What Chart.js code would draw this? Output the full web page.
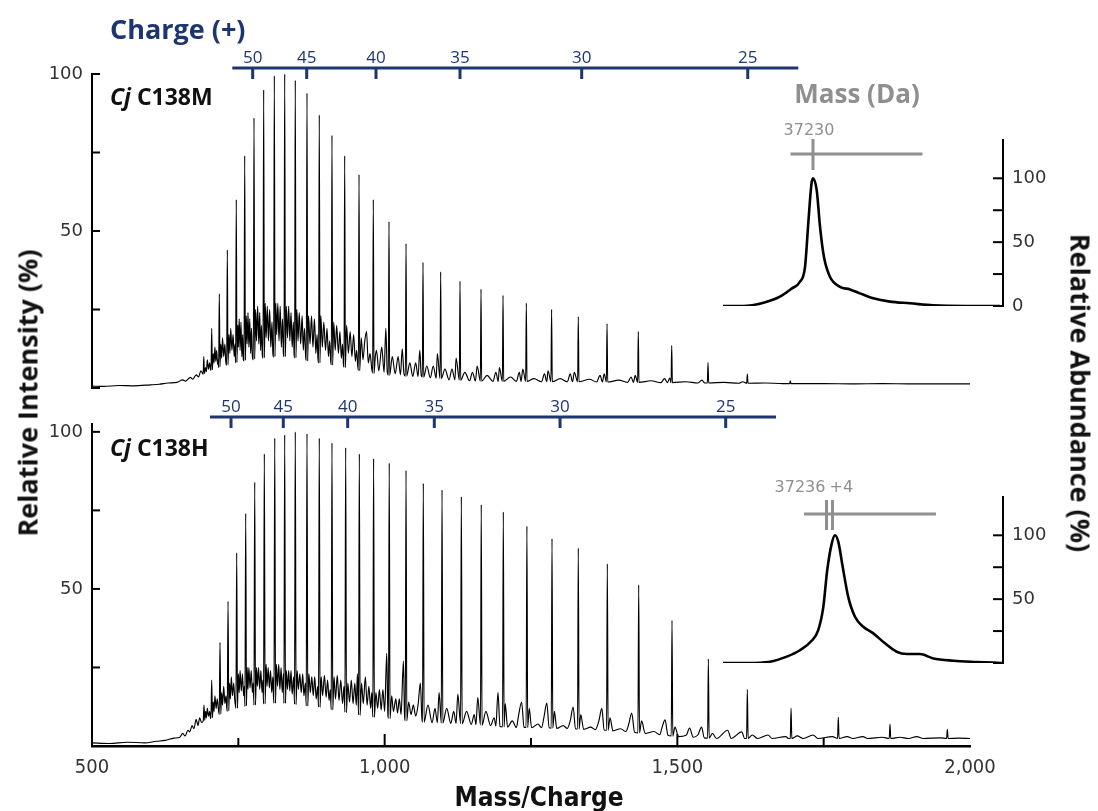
<!DOCTYPE html>
<html>
<head>
<meta charset="utf-8">
<title>Cj C138M / C138H native MS</title>
<script src="https://cdn.jsdelivr.net/npm/chart.js@4.4.1/dist/chart.umd.min.js"></script>
<style>
  html, body { margin: 0; padding: 0; background: #fff; }
  #figure { position: relative; width: 1098px; height: 811px; overflow: hidden; }
  #figure canvas { position: absolute; left: 0; top: 0; }
  .lbl { position: absolute; white-space: nowrap; line-height: 1; font-family: "Open Sans", sans-serif; font-weight: 700; }
  #chargeTitle { left: 110px; top: 15px; font-size: 27px; color: #1d3570; }
  #massTitle { left: 857px; top: 80px; font-size: 26px; color: #8f8f8f; transform: translateX(-50%); }
  .sample { left: 110px; font-size: 23px; color: #111; }
  .sample i { font-style: italic; }
  #sampleTop { top: 85px; }
  #sampleBottom { top: 436px; }
  #yTitle { left: 27px; top: 393px; font-size: 27px; color: #111; transform: translate(-50%, -50%) rotate(-90deg); }
  #y2Title { left: 1081px; top: 393px; font-size: 27px; color: #111; transform: translate(-50%, -50%) rotate(90deg); }
  #xTitle { left: 539px; top: 784px; font-size: 26px; color: #111; transform: translateX(-50%);
            font-family: "DejaVu Sans Condensed", "DejaVu Sans", sans-serif; font-stretch: condensed; }
</style>
</head>
<body>
<div id="figure">
  <canvas id="topSpectrum" width="1098" height="811"></canvas>
  <canvas id="bottomSpectrum" width="1098" height="811"></canvas>
  <canvas id="topInset" width="1098" height="811"></canvas>
  <canvas id="bottomInset" width="1098" height="811"></canvas>
  <div class="lbl" id="chargeTitle">Charge (+)</div>
  <div class="lbl" id="massTitle">Mass (Da)</div>
  <div class="lbl sample" id="sampleTop"><i>Cj</i> C138M</div>
  <div class="lbl sample" id="sampleBottom"><i>Cj</i> C138H</div>
  <div class="lbl" id="yTitle">Relative Intensity (%)</div>
  <div class="lbl" id="y2Title">Relative Abundance (%)</div>
  <div class="lbl" id="xTitle">Mass/Charge</div>
</div>
<script>
// ---- Cj C138M: charge-state series (m/z, % intensity) ----
const topPeakMz = [691, 704.5, 717.5, 731.2, 746.5, 760.9, 776.8, 793.3, 811.5, 829.2, 847.3, 867.3,
  888.3, 910, 931.7, 956.2, 980.6, 1007.4, 1036.5, 1065.5, 1095.7, 1128.7, 1164.6, 1202.2, 1242,
  1285.2, 1330.8, 1379.9, 1433.3, 1490.4, 1552.4, 1619.6, 1693];
const topPeakIntensity = [10, 19, 30, 44, 60, 74, 86, 95, 99.5, 100, 98, 94,
  87, 80.5, 74, 68, 60, 53, 46, 40, 37, 34, 31.5, 29.5, 27,
  25, 22.7, 20.5, 18, 13.5, 8.2, 4.4, 2.3];
// baseline hump, adducts and valleys between the charge states [m/z, %]
const topTrace = [
  [500,0.6],[520,0.5],[545,0.8],[570,0.7],[600,1.0],[615,1.2],[630,1.6],[645,1.8],[655,2.6],[660,2.2],[668,3.4],[672,2.8],[678,4.2],[682,3.5],[686,5.5],[689.9,4.4],
  [692.1,4.6],[694,6.5],[695.5,5.2],[697,9],[699,6],[701,8],[702.5,6],[703.4,5.6],
  [705.6,5.8],[707,11],[708.5,8],[710,13],[711.5,8.5],[713,12],[714.5,7.5],[715.5,9],[716.4,6.5],
  [718.6,6.8],[720,14],[721.5,9.5],[723,16],[725,10],[727,14],[728.5,8.5],[730.1,7.2],
  [732.3,7.4],[734,17],[735.5,11],[737,19],[739,12],[741,17],[743,10],[744.5,14],[745.4,8],
  [747.6,8.2],[749,20],[750,13],[751.5,22],[753,12],[754.5,21],[756,10],[757.5,17],[758.5,9],[759.8,8.6],
  [762,8.8],[763.5,23],[765,14],[766.5,24],[768,13],[769.5,22],[771,11],[772.5,19],[774,10],[775.7,9],
  [777.9,9.2],[779.5,25],[781,15],[783,26],[785,14],[786.5,24],[788,12],[789.5,20],[791,10.5],[792.2,9.5],
  [794.4,9.6],[796,27],[797.5,16],[799.5,26],[801.5,15],[803.5,25],[805.5,13],[807.5,21],[809,11],[810.4,9.8],
  [812.6,10],[814,27],[815.5,17],[817.5,27],[819.5,15],[821.5,26],[823.5,13],[825.5,22],[827,11],[828.1,10],
  [830.3,10],[832,26],[834,16],[836,26],[838,15],[840,24],[842,13],[844,21],[845.3,10.5],[846.2,9.6],
  [848.4,9.6],[850,25],[852,15],[854,24],[856.5,14],[859,23],[861,12],[863,19],[865,10],[866.2,8.8],
  [868.4,8.6],[870,23],[872.5,14],[875,23],[877.5,13],[880,22],[882.5,11],[884.5,17],[886,9.5],[887.2,8],
  [889.4,8],[891,23],[893.5,13],[896,21],[899,12],[901.5,19],[904,10],[906,15],[907.8,8.5],[908.9,7.4],
  [911.1,7.3],[913,21],[915.5,12],[918,20],[921,11],[923.5,18],[926,9.5],[928,14],[929.6,7.5],[930.6,6.6],
  [932.8,6.5],[935,20],[938,11],[941,18],[944,10],[947,17],[950,8.5],[952,12],[954,7],[955.1,5.6],
  [957.3,5.5],[960,16],[963,9],[966,15],[969,18],[972,8],[975,11],[978,6],[979.5,4.8],
  [981.7,4.6],[984,10],[986,12],[990,5.5],[995,13],[999,5],[1002,19],[1004.5,5],[1006.3,4.1],
  [1008.5,4],[1013,10],[1018,4.5],[1023,10],[1027,4.2],[1030,12.5],[1033,4.5],[1035.4,3.8],
  [1037.6,3.8],[1043,8],[1048,3.7],[1053,8],[1057,3.6],[1060,12],[1062.5,4],[1064.4,3.5],
  [1066.6,3.4],[1072,7],[1078,3.3],[1083,7],[1088,3.1],[1090,11],[1094.6,3],
  [1096.8,3],[1103,6],[1110,2.6],[1115,6],[1120,2.6],[1122,9.5],[1127.6,2.5],
  [1129.8,2.5],[1137,5],[1145,2.3],[1150,5],[1155,2.2],[1158,7],[1163.5,2.2],
  [1165.7,2.2],[1175,4],[1185,2.1],[1190,5],[1194,2.1],[1196,6.5],[1201.1,2.1],
  [1203.3,2.1],[1215,3.5],[1225,2.1],[1230,5],[1233,2.1],[1236,6],[1240.9,2.1],
  [1243.1,2.1],[1255,3],[1268,2.0],[1273,4.5],[1277,2.0],[1279,5.5],[1284.1,2.0],
  [1286.3,2],[1300,3],[1312,2],[1317,4.5],[1321,2],[1324,5],[1329.7,2],
  [1331.9,2],[1350,2.8],[1362,1.9],[1368,4],[1372,1.9],[1375,4.5],[1378.8,1.9],
  [1381,1.9],[1400,2.5],[1415,1.8],[1421,3.5],[1425,1.8],[1428,4],[1432.2,1.8],
  [1434.4,1.8],[1455,2.3],[1472,1.7],[1478,3],[1483,1.7],[1487,3.2],[1489.3,1.7],
  [1491.5,1.7],[1515,2],[1535,1.6],[1542,2.5],[1547,1.6],[1551.3,1.6],
  [1553.5,1.6],[1580,1.8],[1605,1.5],[1612,2],[1618.5,1.5],
  [1620.7,1.5],[1650,1.6],[1680,1.4],[1691.9,1.4],
  [1694.1,1.4],[1750,1.4],[1800,1.3],[1850,1.4],[1900,1.3],[1950,1.3],[2000,1.3]
];
const topChargeStates = [50, 45, 40, 35, 30, 25];
const topChargeMz = [774.5, 866.8, 985.2, 1128.7, 1336.6, 1620.3];
const topChargeSpan = [739.7, 1706.7];

// ---- Cj C138H ----
const bottomPeakMz = [691.3, 704.5, 718.7, 732.4, 747.2, 762.6, 778, 794.4, 812.2, 829.2, 847.3, 867.3,
  888.3, 910, 933.4, 956.7, 981.1, 1007.8, 1036.5, 1066, 1098, 1131, 1165, 1202.7, 1243,
  1285.9, 1330.8, 1380.4, 1434, 1490.9, 1553, 1619.6, 1694.3, 1775, 1863.3, 1961.3];
const bottomPeakIntensity = [13, 21, 33, 46, 61.5, 74, 84, 93, 98, 99, 100, 99.4,
  98, 96.5, 95, 93, 91.5, 90, 87.7, 83.6, 81.5, 79.4, 76.8, 74.5, 70,
  66, 63, 58, 51.3, 40, 27.7, 18, 12, 9.1, 7, 5.3];
const bottomTrace = [
  [500,1.0],[530,0.8],[560,1.2],[590,1.0],[610,1.5],[625,1.8],[640,2.5],[650,2.8],[655,4.0],[659,3.2],[664,5],[667,4.5],[671,6.5],[674,5.5],[678,8.5],[681,6.5],[684,9],[687,7.5],[690,8],
  [692.6,8.2],[694,11],[695.5,9],[697,12],[699,9.5],[701,11],[702.3,9],[703.2,8.8],
  [705.8,9],[707,14],[708.5,11],[710,16],[712,12],[714,15],[716,11.5],[717.4,10],
  [720,10.2],[721.5,17],[723,13],[725,19],[727,13.5],[729,16],[730.3,12],[731.1,11],
  [733.7,11.2],[735,20],[736.5,15],[738,22],[740,16],[742,20],[744,14.5],[745.9,12],
  [748.5,12],[750,23],[751.5,17],[753,24],[755,17.5],[757,23],[759,16],[760.3,19],[761.3,12.6],
  [763.9,12.8],[765,25],[766.5,18],[768,25],[770,18.5],[772,24],[774,17],[775.5,20],[776.7,13],
  [779.3,13],[781,25],[782.5,19],[784.5,25],[786.5,18],[788.5,24],[790.5,17],[792,21],[793.1,13.4],
  [795.7,13.4],[797.5,26],[799,19],[801,25],[803,18.5],[805,24],[807,17],[809,22],[810,16],[810.9,13.6],
  [813.5,13.6],[815,26],[817,19],[819,26],[821,18],[823,25],[825,17],[827,23],[827.9,13.6],
  [830.5,13.6],[832,24],[834,18],[836,24],[838,17.5],[840,24],[842,16.5],[844.5,22],[846,13.3],
  [848.6,13.2],[850.5,24],[852.5,18],[855,23],[857.5,17],[860,23],[862,16],[864.5,20],[866,12.8],
  [868.6,12.7],[870.5,23],[873,17],[875.5,22],[878,16],[880.5,22],[883,15],[885.5,19],[887,12.4],
  [889.6,12.3],[891.5,22],[894,16],[897,22.5],[900,15.5],[902.5,21],[905,14.5],[907,18],[908.7,11.6],
  [911.3,11.5],[913.5,22],[916,15],[919,22.5],[922,14.5],[925,21],[928,13.5],[930.5,19],[932.1,10.8],
  [934.7,10.6],[937,20],[940,14],[943,21],[946,13.5],[949,20],[951.5,13],[953.5,23],[955.4,9.9],
  [958,9.8],[960.5,20],[963.5,13.5],[967,22],[970,13],[973,19],[976,12],[978,17],[979.8,9.2],
  [982.4,9.1],[985,17],[988,12],[991,18],[994,11.5],[997,18],[1000,11],[1003.5,29.5],[1005.5,10],[1006.5,8.8],
  [1009.1,8.7],[1012,16],[1015,11],[1019,15],[1022,10.5],[1025,15],[1028,10],[1032,27],[1034,9.5],[1035.2,8.1],
  [1037.8,8],[1041,14],[1045,10],[1049,13],[1053,9.5],[1057,13],[1061,20],[1063.5,9],[1064.7,7.6],
  [1067.3,7.6],[1074,13],[1081,7.4],[1086,12],[1090,7.4],[1093,17],[1096.7,7.3],
  [1099.3,7.3],[1106,12],[1113,7.2],[1118,11],[1122,7.2],[1125,16.5],[1129.7,7.1],
  [1132.3,7],[1140,11],[1148,6.9],[1153,10],[1156,6.8],[1159,15.5],[1163.7,6.7],
  [1166.3,6.6],[1173,11],[1181,6.5],[1187,9],[1190,6.4],[1193.6,17],[1197,6.2],[1201.4,6.1],
  [1204,6.1],[1206,13.5],[1210,6],[1218,8],[1225,5.9],[1229,10],[1234,14],[1238,6],[1241.7,5.9],
  [1244.3,5.9],[1247,12],[1251,5.8],[1262,7],[1268,5.8],[1272,9],[1277,13.7],[1281,5.8],[1284.6,5.7],
  [1287.2,5.7],[1290,11],[1294,5.6],[1305,6.5],[1312,5.6],[1317,8],[1322,12.4],[1326,5.5],[1329.5,5.4],
  [1332.1,5.4],[1335,10],[1340,5.3],[1352,6],[1360,5.2],[1366,8],[1371,12],[1375,5.1],[1379.1,5],
  [1381.7,5],[1385,9],[1390,4.8],[1403,5.5],[1412,4.6],[1417,7],[1422,10.5],[1427,4.4],[1432.7,4.2],
  [1435.3,4.2],[1439,8],[1445,4],[1460,4.6],[1470,3.6],[1474,6],[1479,8.3],[1484,3.4],[1489.6,3.2],
  [1492.2,3.1],[1496,6],[1502,3],[1515,3.4],[1521,5.7],[1527,2.8],[1535,3.5],[1541.5,6],[1546,2.6],[1551.7,2.5],
  [1554.3,2.5],[1560,4],[1567,2.4],[1586,5],[1592,2.4],[1610,4.5],[1615,2.4],[1618.3,2.4],
  [1620.9,2.4],[1628,3.5],[1637,2.4],[1655,3.5],[1662,2.4],[1685,3],[1690,2.4],[1693,2.4],
  [1695.6,2.4],[1705,3.2],[1715,2.4],[1732,3.5],[1740,2.4],[1765,3],[1773.7,2.4],
  [1776.3,2.4],[1790,3],[1800,2.4],[1817,3],[1825,2.4],[1850,2.8],[1862,2.4],
  [1864.6,2.4],[1880,2.8],[1895,2.4],[1909,3],[1920,2.4],[1950,2.6],[1960,2.4],
  [1962.6,2.4],[1980,2.5],[2000,2.4]
];
const bottomChargeStates = [50, 45, 40, 35, 30, 25];
const bottomChargeMz = [737.5, 826.8, 936.8, 1084.8, 1299.6, 1582.6];
const bottomChargeSpan = [701.6, 1668.6];

// ---- deconvoluted masses (Da, % abundance) ----
const topMass = [37170, 37183.5, 37197, 37208, 37216, 37221.3, 37224.7, 37227, 37229, 37230, 37232.5,
  37234.7, 37237.3, 37241.3, 37248, 37254.7, 37261.3, 37270.2, 37281.3, 37294.7, 37310.2, 37332.5, 37354.7];
const topAbundance = [0, 0, 2.6, 7.3, 13.8, 19, 30.7, 67, 95.8, 100, 90.6,
  62, 38.5, 22.9, 15, 13, 9.9, 6, 3.4, 2.1, 0.5, 0, 0];
const topMarkMass = [37230];
const topMarkSpan = [37215, 37303];

const bottomMass = [37167, 37183, 37198.3, 37209.5, 37218.3, 37226.1, 37230.5, 37233.9, 37236.5, 37239.5,
  37241.7, 37243.9, 37246.8, 37250.5, 37255, 37260.5, 37267.2, 37275, 37282.8, 37289.5, 37298.3,
  37307.2, 37320.5, 37336.1, 37352.8];
const bottomAbundance = [0, 0, 1, 5, 10, 17.4, 25.8, 44, 72.7, 93.5,
  100, 94.8, 75.3, 51.8, 36.2, 28.4, 23.2, 15.4, 8.8, 7, 7,
  3.6, 1.8, 0.8, 0];
const bottomMarkMass = [37236, 37240];
const bottomMarkSpan = [37221, 37309];

const mzTicks = [500, 750, 1000, 1250, 1500, 1750, 2000];
const intensityTicks = [0, 25, 50, 75, 100];

// ---------------------------------------------------------------
const NAVY = '#1d3570';
const GREY = '#8f8f8f';

function spectrumPoints(trace, peakMz, peakIntensity) {
  const pts = trace.map(([x, y]) => ({ x, y }));
  peakMz.forEach((x, i) => pts.push({ x, y: peakIntensity[i] }));
  return pts.sort((a, b) => a.x - b.x);
}

// tick marks pointing into the plot area
function inwardTicks(axes) {
  return {
    id: 'inwardTicks',
    afterDraw(chart) {
      const { ctx, chartArea: a } = chart;
      ctx.save();
      ctx.strokeStyle = '#000';
      ctx.lineWidth = 2;
      axes.forEach(ax => {
        const scale = chart.scales[ax.id];
        scale.ticks.forEach(t => {
          if (ax.skipEnds && (t.value === scale.min || t.value === scale.max)) return;
          const p = scale.getPixelForValue(t.value);
          const len = t.label === '' ? ax.minor : ax.major;
          ctx.beginPath();
          if (ax.id === 'x') { ctx.moveTo(p, a.bottom); ctx.lineTo(p, a.bottom - len); }
          else if (scale.position === 'left') { ctx.moveTo(a.left, p); ctx.lineTo(a.left + len, p); }
          else { ctx.moveTo(a.right, p); ctx.lineTo(a.right - len, p); }
          ctx.stroke();
        });
      });
      ctx.restore();
    }
  };
}

// charge-state ruler above a spectrum
function chargeRuler(states, positions, span, offset) {
  return {
    id: 'chargeRuler',
    afterDraw(chart) {
      const { ctx } = chart;
      const x = chart.scales.x;
      const y = chart.chartArea.top + offset;
      ctx.save();
      ctx.strokeStyle = NAVY;
      ctx.fillStyle = NAVY;
      ctx.lineWidth = 3;
      ctx.beginPath();
      ctx.moveTo(x.getPixelForValue(span[0]), y);
      ctx.lineTo(x.getPixelForValue(span[1]), y);
      ctx.stroke();
      ctx.font = '17px "Open Sans"';
      ctx.textAlign = 'center';
      ctx.textBaseline = 'alphabetic';
      positions.forEach((mz, i) => {
        const px = x.getPixelForValue(mz);
        ctx.beginPath();
        ctx.moveTo(px, y);
        ctx.lineTo(px, y + 11);
        ctx.stroke();
        ctx.fillText(String(states[i]), px, y - 5);
      });
      ctx.restore();
    }
  };
}

// grey mass marker above a deconvoluted peak
function massMarker(marks, span, labels, geom) {
  return {
    id: 'massMarker',
    afterDraw(chart) {
      const { ctx } = chart;
      const x = chart.scales.x;
      const top = chart.chartArea.top;
      ctx.save();
      ctx.strokeStyle = GREY;
      ctx.fillStyle = GREY;
      ctx.lineWidth = 3;
      ctx.beginPath();
      ctx.moveTo(x.getPixelForValue(span[0]), top + geom.bar);
      ctx.lineTo(x.getPixelForValue(span[1]), top + geom.bar);
      ctx.stroke();
      marks.forEach(m => {
        const px = x.getPixelForValue(m);
        ctx.beginPath();
        ctx.moveTo(px, top + geom.tick[0]);
        ctx.lineTo(px, top + geom.tick[1]);
        ctx.stroke();
      });
      ctx.font = '16px "DejaVu Sans"';
      ctx.textBaseline = 'alphabetic';
      labels.forEach(l => {
        ctx.textAlign = l.align;
        ctx.fillText(l.text, x.getPixelForValue(l.value) + l.dx, top - 5);
      });
      ctx.restore();
    }
  };
}

function spectrumChart(id, points, yMax, padTop, showX, extra) {
  return new Chart(document.getElementById(id), {
    type: 'line',
    data: {
      datasets: [{
        data: points,
        borderColor: '#000',
        borderWidth: 1.15,
        pointRadius: 0,
        cubicInterpolationMode: 'monotone'
      }]
    },
    options: {
      responsive: false,
      animation: false,
      events: [],
      layout: { padding: { left: 32, right: 128, top: padTop, bottom: showX ? 15 : 423 } },
      plugins: { legend: { display: false }, tooltip: { enabled: false } },
      scales: {
        x: {
          type: 'linear',
          min: 500,
          max: 2000,
          display: showX,
          afterFit: s => { if (showX) s.height = 50; },
          afterBuildTicks: s => { s.ticks = mzTicks.map(v => ({ value: v })); },
          grid: { display: false, drawTicks: false },
          border: { display: true, color: '#000', width: 2.5 },
          ticks: {
            autoSkip: false,
            maxRotation: 0,
            padding: 10,
            color: '#333',
            font: { family: '"DejaVu Sans Condensed", "DejaVu Sans"', size: 20 },
            callback: v => (v % 500 === 0 ? v.toLocaleString('en-US') : '')
          }
        },
        y: {
          min: 0,
          max: yMax,
          position: 'left',
          afterFit: s => { s.width = 60; },
          afterBuildTicks: s => { s.ticks = intensityTicks.map(v => ({ value: v })); },
          grid: { display: false, drawTicks: false },
          border: { display: true, color: '#000', width: 2 },
          ticks: {
            padding: 9,
            color: '#333',
            font: { family: '"DejaVu Sans"', size: 18 },
            callback: v => (v === 50 || v === 100 ? String(v) : '')
          }
        }
      }
    },
    plugins: extra
  });
}

function insetChart(id, mass, abundance, range, padTop, shownLabels, extra) {
  return new Chart(document.getElementById(id), {
    type: 'line',
    data: {
      datasets: [{
        data: mass.map((m, i) => ({ x: m, y: abundance[i] })),
        borderColor: '#000',
        borderWidth: 2.6,
        pointRadius: 0,
        cubicInterpolationMode: 'monotone'
      }]
    },
    options: {
      responsive: false,
      animation: false,
      events: [],
      layout: { padding: { left: 723, right: 45, top: padTop, bottom: 811 - padTop - 166 } },
      plugins: { legend: { display: false }, tooltip: { enabled: false } },
      scales: {
        x: { type: 'linear', min: range[0], max: range[1], display: false },
        y: {
          min: 0,
          max: 130,
          position: 'right',
          afterFit: s => { s.width = 50; },
          afterBuildTicks: s => { s.ticks = intensityTicks.map(v => ({ value: v })); },
          grid: { display: false, drawTicks: false },
          border: { display: true, color: '#000', width: 2 },
          ticks: {
            padding: 9,
            color: '#333',
            font: { family: '"DejaVu Sans"', size: 18 },
            callback: v => (shownLabels.includes(v) ? String(v) : '')
          }
        }
      }
    },
    plugins: extra
  });
}

spectrumChart('topSpectrum', spectrumPoints(topTrace, topPeakMz, topPeakIntensity), 100, 74, false, [
  inwardTicks([{ id: 'y', major: 8, minor: 8 }]),
  chargeRuler(topChargeStates, topChargeMz, topChargeSpan, -6)
]);

spectrumChart('bottomSpectrum', spectrumPoints(bottomTrace, bottomPeakMz, bottomPeakIntensity), 102.5, 424, true, [
  inwardTicks([{ id: 'y', major: 8, minor: 8 }, { id: 'x', major: 12, minor: 8, skipEnds: true }]),
  chargeRuler(bottomChargeStates, bottomChargeMz, bottomChargeSpan, -7)
]);

insetChart('topInset', topMass, topAbundance, [37170, 37356.7], 140, [0, 50, 100], [
  inwardTicks([{ id: 'y', major: 10, minor: 10 }]),
  massMarker(topMarkMass, topMarkSpan,
    [{ text: String(topMarkMass[0]), value: topMarkMass[0], align: 'center', dx: -4 }],
    { bar: 14, tick: [-1, 30] })
]);

insetChart('bottomInset', bottomMass, bottomAbundance, [37167, 37353.7], 497, [50, 100], [
  inwardTicks([{ id: 'y', major: 10, minor: 10 }]),
  massMarker(bottomMarkMass, bottomMarkSpan,
    [{ text: String(bottomMarkMass[0]), value: bottomMarkMass[0], align: 'right', dx: -1 },
     { text: '+' + (bottomMarkMass[1] - bottomMarkMass[0]), value: bottomMarkMass[1], align: 'left', dx: -3 }],
    { bar: 17, tick: [3, 33] })
]);
</script>
</body>
</html>
